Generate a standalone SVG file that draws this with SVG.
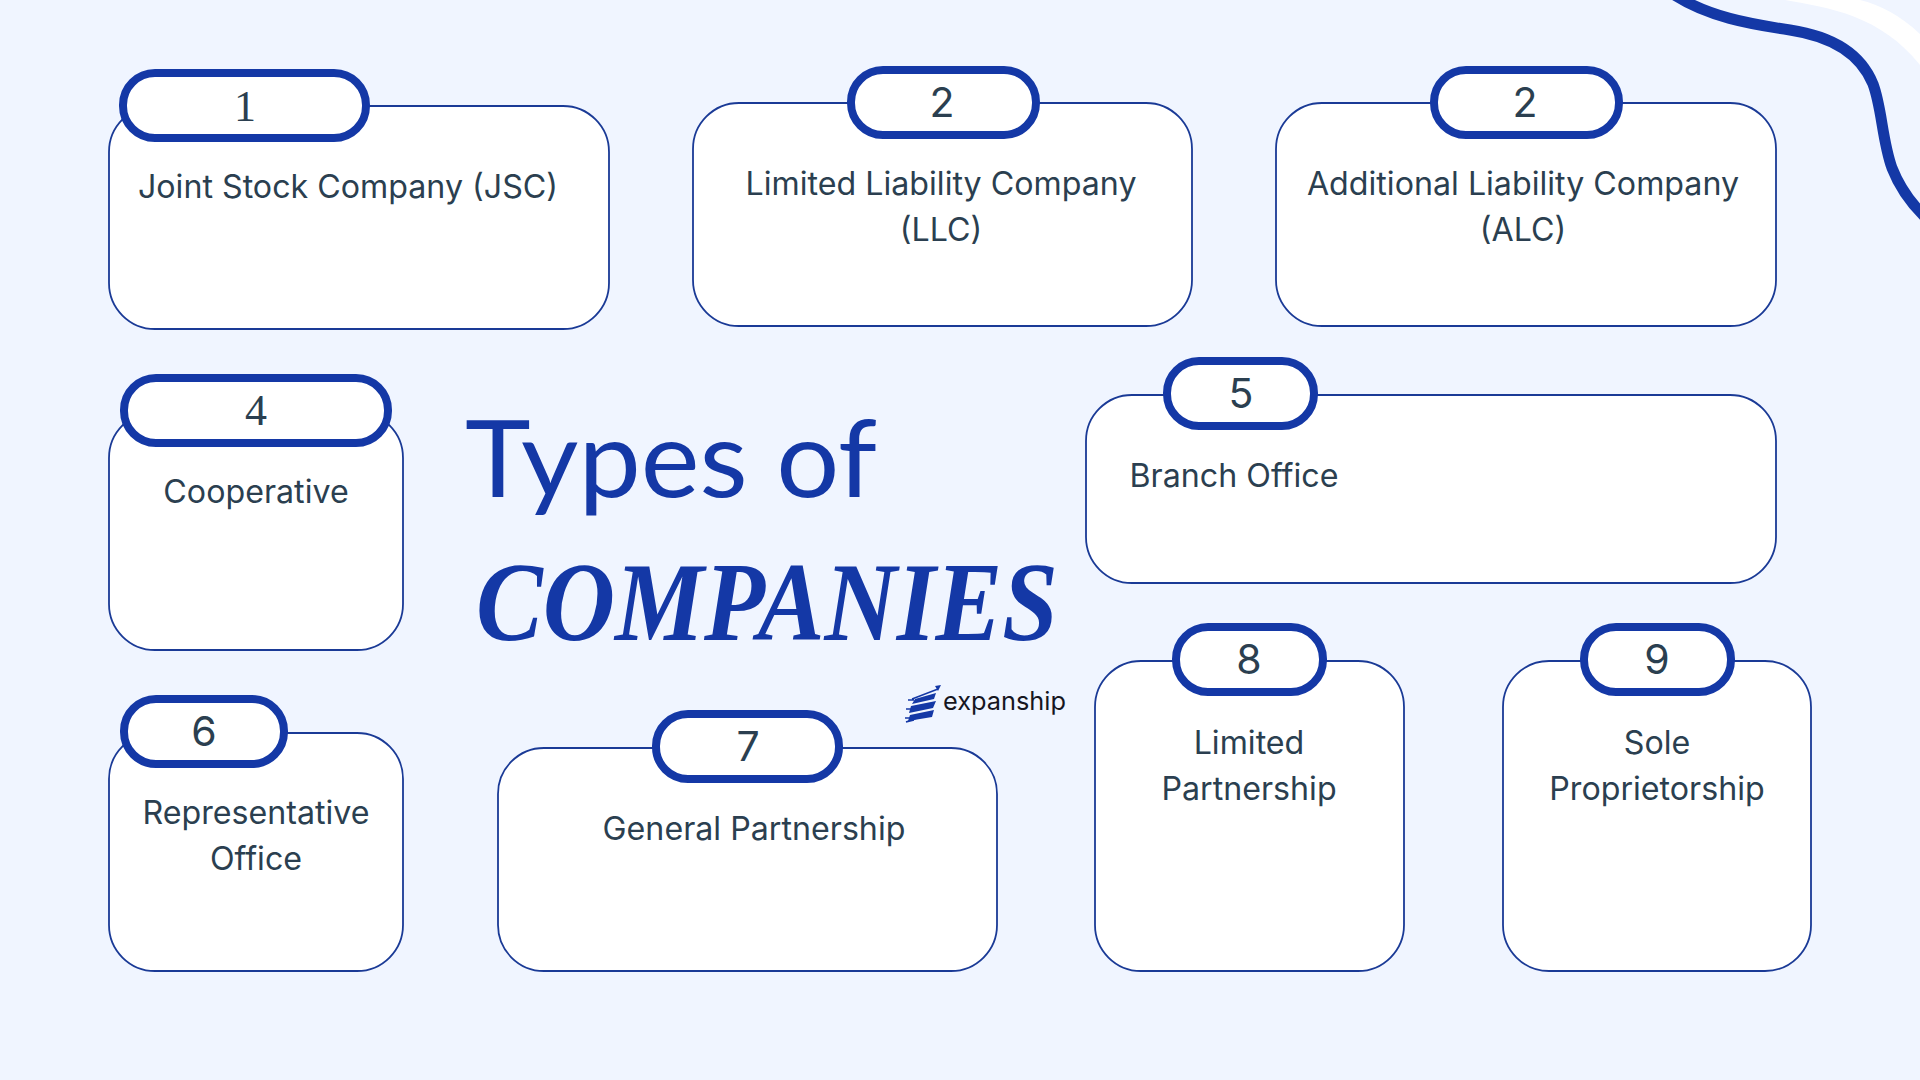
<svg xmlns="http://www.w3.org/2000/svg" width="1920" height="1080" viewBox="0 0 1920 1080">
<style>
.card{fill:#fff;stroke:#1a3a96;stroke-width:1.8}
.pill{fill:#fff;stroke:#1438a6;stroke-width:8}
.num{font-family:"Inter","Liberation Sans",sans-serif;font-size:41px;fill:#2b3f50;text-anchor:middle}
.ser{font-family:"Liberation Serif",serif;font-size:44px}
.lab{font-family:"Inter","Liberation Sans",sans-serif;font-size:32.2px;fill:#2b3f50;text-anchor:middle}
.title{fill:#1438a6}
</style>
<rect width="1920" height="1080" fill="#f0f5ff"/>
<path d="M1785 0C1830 8 1880 15 1920 65V34C1900 15 1880 5 1860 0Z" fill="#fff"/>
<path d="M1673 -6C1708 17 1750 24 1790 30C1830 36 1860 52 1873 84C1882 108 1882 140 1892 168C1899 186 1908 200 1924 216" fill="none" stroke="#1438a6" stroke-width="11"/>
<g id="connectors"></g>
<g id="node-1"><rect class="card" x="109" y="106" width="500" height="223" rx="46"/><rect class="pill" x="123" y="73" width="243" height="65" rx="32"/><text class="num ser" x="245" y="121">1</text><text class="lab" x="348" y="198">Joint Stock Company (JSC)</text></g>
<g id="node-2"><rect class="card" x="693" y="103" width="499" height="223" rx="46"/><rect class="pill" x="851" y="70" width="185" height="65" rx="32"/><text class="num" x="942" y="117">2</text><text class="lab" x="941" y="195">Limited Liability Company</text><text class="lab" x="941" y="241">(LLC)</text></g>
<g id="node-3"><rect class="card" x="1276" y="103" width="500" height="223" rx="46"/><rect class="pill" x="1434" y="70" width="185" height="65" rx="32"/><text class="num" x="1525" y="117">2</text><text class="lab" x="1523" y="195">Additional Liability Company</text><text class="lab" x="1523" y="241">(ALC)</text></g>
<g id="node-4"><rect class="card" x="109" y="412" width="294" height="238" rx="46"/><rect class="pill" x="124" y="378" width="264" height="65" rx="32"/><text class="num ser" x="256" y="425">4</text><text class="lab" x="256" y="503">Cooperative</text></g>
<g id="node-5"><rect class="card" x="1086" y="395" width="690" height="188" rx="46"/><rect class="pill" x="1167" y="361" width="147" height="65" rx="32"/><text class="num" x="1241" y="408">5</text><text class="lab" x="1234" y="487">Branch Office</text></g>
<g id="node-6"><rect class="card" x="109" y="733" width="294" height="238" rx="46"/><rect class="pill" x="124" y="699" width="160" height="65" rx="32"/><text class="num" x="204" y="746">6</text><text class="lab" x="256" y="824">Representative</text><text class="lab" x="256" y="870">Office</text></g>
<g id="node-7"><rect class="card" x="498" y="748" width="499" height="223" rx="46"/><rect class="pill" x="656" y="714" width="183" height="65" rx="32"/><text class="num" x="748" y="761">7</text><text class="lab" x="754" y="840">General Partnership</text></g>
<g id="node-8"><rect class="card" x="1095" y="661" width="309" height="310" rx="46"/><rect class="pill" x="1176" y="627" width="147" height="65" rx="32"/><text class="num" x="1249" y="674">8</text><text class="lab" x="1249" y="754">Limited</text><text class="lab" x="1249" y="800">Partnership</text></g>
<g id="node-9"><rect class="card" x="1503" y="661" width="308" height="310" rx="46"/><rect class="pill" x="1584" y="627" width="147" height="65" rx="32"/><text class="num" x="1657" y="674">9</text><text class="lab" x="1657" y="754">Sole</text><text class="lab" x="1657" y="800">Proprietorship</text></g>
<g id="title">
<text class="title" x="465" y="497" font-family="Lato,sans-serif" font-size="107" textLength="412" lengthAdjust="spacingAndGlyphs">Types of</text>
<text class="title" x="476" y="640" font-family="'Liberation Serif',serif" font-style="italic" font-weight="bold" font-size="112" textLength="582" lengthAdjust="spacingAndGlyphs">COMPANIES</text>
</g>
<g id="logo">
<path d="M915 699L936 693L934 699L912 704ZM911 706L936 701L933 708L909 713ZM910 715L934 710L932 717L908 721Z" fill="#1438a6"/>
<path d="M906 709H912M908 700H914M905 718H910M906 722L914 720M906 722L917 718M912 699L938 689" stroke="#1438a6" stroke-width="1.4" fill="none"/>
<path d="M935 686L941 685L938 691Z" fill="#1438a6"/>
<text x="943" y="710" font-family="Inter,sans-serif" font-size="25" fill="#16161f" textLength="123" lengthAdjust="spacingAndGlyphs">expanship</text>
</g>
</svg>
